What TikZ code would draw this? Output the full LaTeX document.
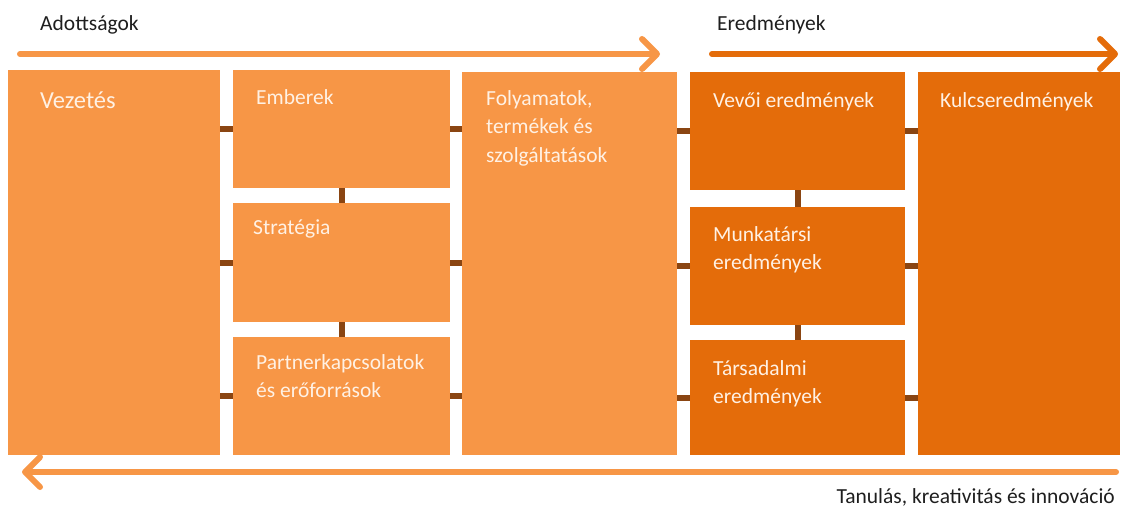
\documentclass[tikz,border=0pt]{standalone}
\usepackage{fontspec}
\setmainfont{Carlito}
\usetikzlibrary{arrows.meta}

\definecolor{lightOrange}{HTML}{F79646}
\definecolor{darkOrange}{HTML}{E46C0A}
\definecolor{linkBrown}{HTML}{8A4512}
\definecolor{boxText}{HTML}{FFF1E4}
\definecolor{headText}{HTML}{1E1E1E}

\begin{document}
\begin{tikzpicture}
[x=1pt,y=-1pt,
  boxDecorate/.style={anchor=north west,inner sep=0pt,draw=none},
  linkDecorate/.style={-,line width=6pt,draw=linkBrown},
  textDecorate/.style={anchor=north west,inner sep=0pt,align=left,text=boxText,
    font=\fontsize{21.5}{28.5}\selectfont,execute at begin node={\rule{0pt}{17pt}}},
  headDecorate/.style={inner sep=0pt,text=headText,font=\fontsize{21.5}{24}\selectfont},
  flowDecorate/.style={line width=6pt,line cap=round,
    -{Straight Barb[round,length=15pt,width=30pt]}}]
\useasboundingbox (0,0) rectangle (1123,511);
%% boxes
\foreach \nodename/\x/\y/\w/\h/\col in {
  vez/8/70/212/385/lightOrange,
  emb/233/70/217/118/lightOrange,
  str/233/203/217/119/lightOrange,
  par/233/337/217/118/lightOrange,
  fol/462/72/215/383/lightOrange,
  vev/690/72/215/118/darkOrange,
  mun/690/207/215/118/darkOrange,
  tar/690/340/215/115/darkOrange,
  kul/918/72/202/383/darkOrange}
{
  \node (\nodename) at (\x,\y) [boxDecorate,fill=\col,minimum width=\w,minimum height=\h] {};
}
%% box texts
\node (vez-t) at ([shift={(32,19)}]vez.north west) [textDecorate,
  font=\fontsize{24.5}{28}\selectfont,execute at begin node={\rule{0pt}{19pt}}] {Vezetés};
\foreach \nodename/\dx/\dy/\txt in {
  emb/23/17/Emberek,
  str/20/14/Stratégia,
  par/23/17/{Partnerkapcsolatok\\és erőforrások},
  fol/24/18/{Folyamatok,\\termékek és\\szolgáltatások},
  vev/23/18/{Vevői eredmények},
  mun/23/19/{Munkatársi\\eredmények},
  tar/23/20/{Társadalmi\\eredmények},
  kul/22/18/Kulcseredmények}
{
  \node (\nodename-t) at ([shift={(\dx,\dy)}]\nodename.north west) [textDecorate] {\txt};
}
%% links
\path
\foreach \startnode/\endnode in {emb/str, str/par, vev/mun, mun/tar}
{
  (\startnode.south) edge[linkDecorate] (\endnode.north)
};
\path
\foreach \startnode/\endnode in {vez/emb, vez/str, vez/par, fol/vev, fol/mun, fol/tar}
{
  (\startnode.east |- \endnode.west) edge[linkDecorate] (\endnode.west)
};
\path
\foreach \startnode/\endnode in {emb/fol, str/fol, par/fol, vev/kul, mun/kul, tar/kul}
{
  (\startnode.east) edge[linkDecorate] (\endnode.west |- \startnode.east)
};
%% flow arrows
\coordinate (given-a) at (20,54);
\coordinate (given-b) at (660,54);
\coordinate (result-a) at (712,54);
\coordinate (result-b) at (1118,54);
\coordinate (learn-a) at (1116,472);
\coordinate (learn-b) at (22,472);
\draw[flowDecorate,draw=lightOrange] (given-a) -- (given-b);
\draw[flowDecorate,draw=darkOrange] (result-a) -- (result-b);
\draw[flowDecorate,draw=lightOrange] (learn-a) -- (learn-b);
%% headings
\node (given-t) at (40,31) [headDecorate,anchor=base west] {Adottságok};
\node (result-t) at (717,31) [headDecorate,anchor=base west] {Eredmények};
\node (learn-t) at (1115,503) [headDecorate,anchor=base east] {Tanulás, kreativitás és innováció};
\end{tikzpicture}
\end{document}
